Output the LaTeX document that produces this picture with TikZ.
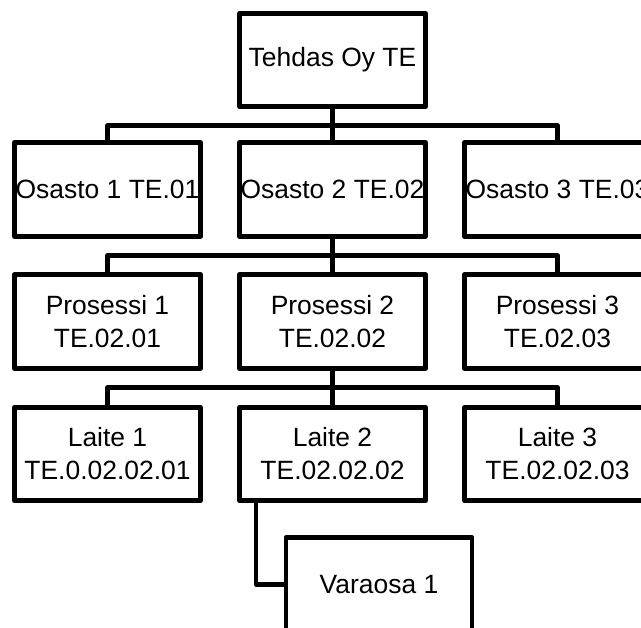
\documentclass[tikz,border=0pt]{standalone}
\usepackage{fontspec}
\setsansfont{Liberation Sans}
\usepackage{tikz}
\usetikzlibrary{positioning,calc}

\begin{document}
\begin{tikzpicture}[
  x=0.025cm, y=-0.025cm,
  font=\sffamily\fontsize{18.8}{23.5}\selectfont,
  box/.style={draw=black, line width=3.3pt, line join=round, fill=white,
              align=center, inner sep=0pt, minimum width=4.65cm, minimum height=2.34cm},
  link/.style={draw=black, line width=3.3pt, line join=round},
]
  \useasboundingbox (0,0) rectangle (641,628);

  \node[box] (te)  at (332.5,60)    {Tehdas Oy TE};
  \node[box] (os1) at (107.5,189.5) {Osasto 1 TE.01};
  \node[box] (os2) at (332.5,189.5) {Osasto 2 TE.02};
  \node[box] (os3) at (557.5,189.5) {Osasto 3 TE.03};
  \node[box] (pr1) at (107.5,321.5) {Prosessi 1\\TE.02.01};
  \node[box] (pr2) at (332.5,321.5) {Prosessi 2\\TE.02.02};
  \node[box] (pr3) at (557.5,321.5) {Prosessi 3\\TE.02.03};
  \node[box] (la1) at (107.5,454)   {Laite 1\\TE.0.02.02.01};
  \node[box] (la2) at (332.5,454)   {Laite 2\\TE.02.02.02};
  \node[box] (la3) at (557.5,454)   {Laite 3\\TE.02.02.03};
  \node[box] (va)  at (379,584.5)   {Varaosa 1};

  % bus rails between the levels
  \coordinate (bus1) at (332.5,125.5);
  \coordinate (bus2) at (332.5,255.5);
  \coordinate (bus3) at (332.5,387.5);

  \draw[link] (te.south) -- (bus1) -| (os1.north);
  \draw[link] (bus1) -| (os3.north);
  \draw[link] (bus1) -- (os2.north);

  \draw[link] (os2.south) -- (bus2) -| (pr1.north);
  \draw[link] (bus2) -| (pr3.north);
  \draw[link] (bus2) -- (pr2.north);

  \draw[link] (pr2.south) -- (bus3) -| (la1.north);
  \draw[link] (bus3) -| (la3.north);
  \draw[link] (bus3) -- (la2.north);

  \draw[link] ([xshift=0.475cm]la2.south west) |- (va.west);
\end{tikzpicture}
\end{document}
